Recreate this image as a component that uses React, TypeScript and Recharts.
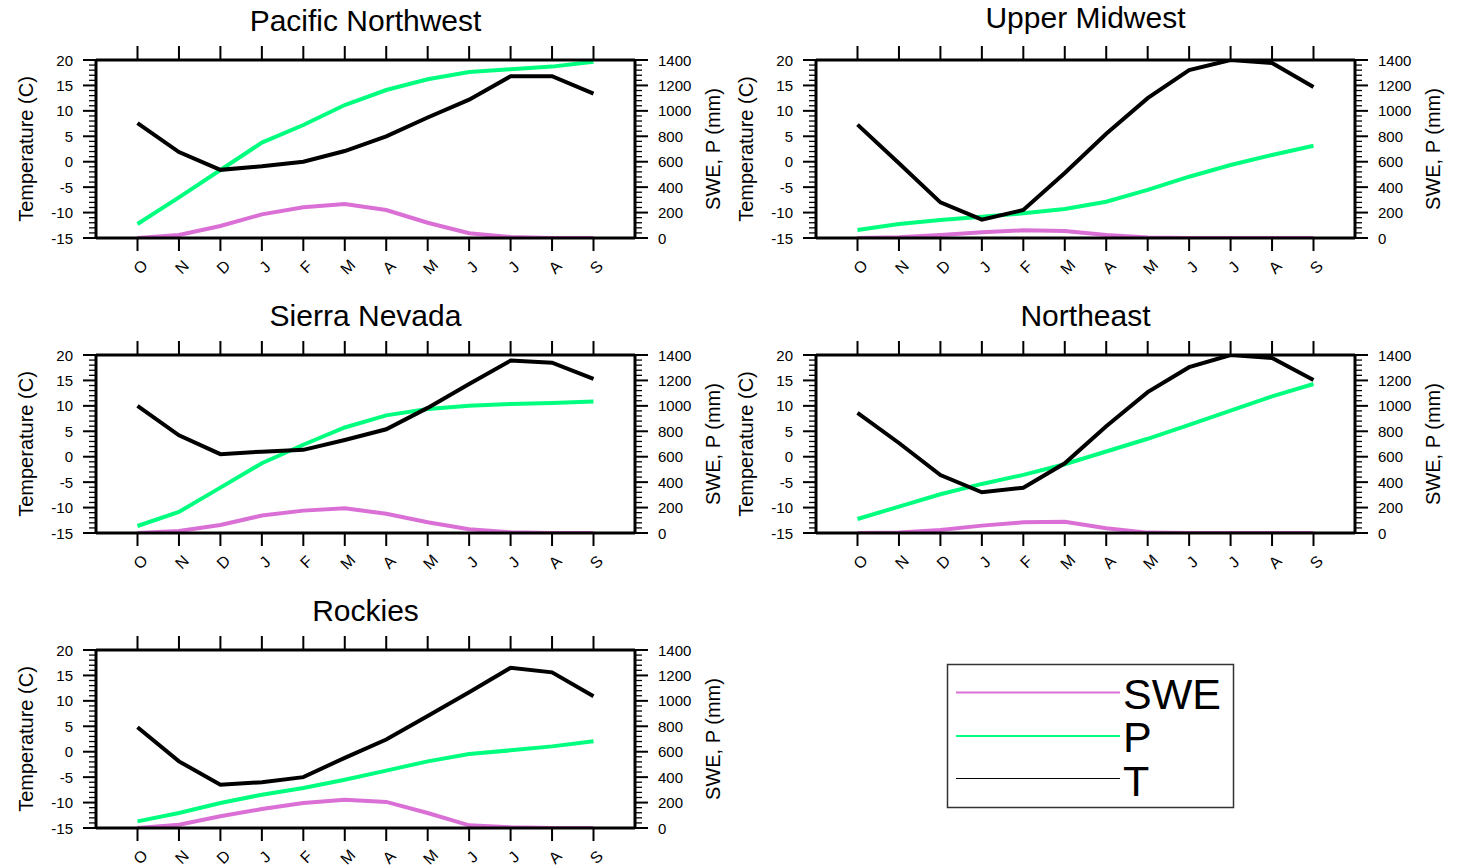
import React from "react";
import { LineChart, Line, XAxis, YAxis } from "recharts";

const months = ["Oct", "Nov", "Dec", "Jan", "Feb", "Mar", "Apr", "May", "Jun", "Jul", "Aug", "Sep"];

const pnwT = [7.6, 1.9, -1.6, -0.9, 0.0, 2.1, 5.0, 8.7, 12.2, 16.8, 16.8, 13.4];
const pnwP = [110, 320, 535, 750, 889, 1046, 1164, 1248, 1306, 1327, 1348, 1387];
const pnwSWE = [0, 24, 94, 186, 241, 267, 220, 120, 37, 8, 0, 0];

const umT = [7.3, -0.3, -8.0, -11.4, -9.5, -2.2, 5.5, 12.5, 18.0, 20.0, 19.4, 14.7];
const umP = [63, 110, 142, 168, 194, 228, 285, 378, 482, 574, 653, 726];
const umSWE = [0, 5, 24, 45, 60, 55, 24, 4, 0, 0, 0, 0];

const snT = [10.0, 4.2, 0.5, 1.0, 1.35, 3.3, 5.4, 9.6, 14.3, 18.9, 18.5, 15.3];
const snP = [55, 166, 357, 549, 694, 830, 925, 975, 1001, 1014, 1022, 1035];
const snSWE = [0, 16, 63, 137, 176, 194, 152, 84, 29, 5, 0, 0];

const neT = [8.6, 2.7, -3.6, -7.0, -6.1, -1.3, 6.0, 12.7, 17.6, 20.0, 19.4, 15.1];
const neP = [110, 208, 305, 386, 457, 541, 641, 741, 851, 962, 1074, 1172];
const neSWE = [0, 3, 24, 58, 84, 89, 37, 3, 0, 0, 0, 0];

const rkT = [4.8, -1.9, -6.5, -6.0, -5.0, -1.2, 2.4, 7.0, 11.7, 16.5, 15.6, 10.9];
const rkP = [52, 118, 197, 262, 315, 380, 451, 524, 582, 611, 642, 682];
const rkSWE = [0, 26, 92, 149, 197, 223, 205, 118, 21, 5, 0, 0];

const tempMajorTicks = [-15, -10, -5, 0, 5, 10, 15, 20];
const mmMajorTicks = [0, 200, 400, 600, 800, 1000, 1200, 1400];
const tempTicks: number[] = [];
for (let v = -15; v <= 20; v += 1) tempTicks.push(v);
const mmTicks: number[] = [];
for (let v = 0; v <= 1400; v += 40) mmTicks.push(v);

const FONT = "'Liberation Sans', Arial, Helvetica, sans-serif";
const C_SWE = "#DA70D6";
const C_P = "#00FF7F";
const C_T = "#000000";

const build = (t: number[], p: number[], s: number[]) =>
  months.map((m, i) => ({ month: m, t: t[i], p: p[i], swe: s[i] }));

const panels = [
  { title: "Pacific Northwest", left: 0, top: 0, titleDy: 29, data: build(pnwT, pnwP, pnwSWE) },
  { title: "Upper Midwest", left: 720, top: 0, titleDy: 32, data: build(umT, umP, umSWE) },
  { title: "Sierra Nevada", left: 0, top: 295, titleDy: 29, data: build(snT, snP, snSWE) },
  { title: "Northeast", left: 720, top: 295, titleDy: 29, data: build(neT, neP, neSWE) },
  { title: "Rockies", left: 0, top: 590, titleDy: 29, data: build(rkT, rkP, rkSWE) },
];

const TMAJ = 13;
const TMIN = 7;
const TMARGIN = 10;

const TempTick = (props: any) => {
  const { x, y, payload } = props;
  const v = payload.value;
  const major = tempMajorTicks.includes(v);
  const axisX = x + TMAJ + TMARGIN;
  return (
    <g>
      <line x1={axisX - (major ? TMAJ : TMIN)} x2={axisX} y1={y} y2={y} stroke="#000" strokeWidth={major ? 2 : 1.3} />
      {major && (
        <text x={x} y={y} textAnchor="end" dominantBaseline="central" fontSize={15} fontFamily={FONT} fill="#000">
          {v}
        </text>
      )}
    </g>
  );
};

const MmTick = (props: any) => {
  const { x, y, payload } = props;
  const v = payload.value;
  const major = mmMajorTicks.includes(v);
  const axisX = x - TMAJ - TMARGIN;
  return (
    <g>
      <line x1={axisX} x2={axisX + (major ? TMAJ : TMIN)} y1={y} y2={y} stroke="#000" strokeWidth={major ? 2 : 1.3} />
      {major && (
        <text x={x} y={y} textAnchor="start" dominantBaseline="central" fontSize={15} fontFamily={FONT} fill="#000">
          {v}
        </text>
      )}
    </g>
  );
};

const MonthTick = (props: any) => {
  const { x, y, payload } = props;
  const cx = x + 3;
  const cy = y;
  return (
    <text
      x={cx}
      y={cy}
      textAnchor="middle"
      dominantBaseline="central"
      fontSize={16}
      fontFamily={FONT}
      fill="#000"
      transform={`rotate(-45 ${cx} ${cy})`}
    >
      {String(payload.value).charAt(0)}
    </text>
  );
};

const EmptyTick = () => <g />;

const axisLineStyle = { stroke: "#000", strokeWidth: 3 };
const tickLineStyle = { stroke: "#000", strokeWidth: 2 };

function Panel({ data }: { data: any[] }) {
  return (
    <LineChart width={720} height={290} data={data} margin={{ top: 30, right: 0, bottom: 0, left: 0 }}>
      <XAxis
        xAxisId="b"
        dataKey="month"
        type="category"
        orientation="bottom"
        height={52}
        padding={{ left: 41.5, right: 41.5 }}
        tickSize={13}
        tickMargin={16}
        tickLine={tickLineStyle}
        axisLine={axisLineStyle}
        tick={<MonthTick />}
        interval={0}
      />
      <XAxis
        xAxisId="t"
        dataKey="month"
        type="category"
        orientation="top"
        height={30}
        padding={{ left: 41.5, right: 41.5 }}
        tickSize={14}
        tickLine={tickLineStyle}
        axisLine={axisLineStyle}
        tick={<EmptyTick />}
        interval={0}
      />
      <YAxis
        yAxisId="T"
        orientation="left"
        type="number"
        width={96}
        domain={[-15, 20]}
        ticks={tempTicks}
        interval={0}
        tickSize={TMAJ}
        tickMargin={TMARGIN}
        tickLine={false}
        axisLine={axisLineStyle}
        tick={<TempTick />}
        allowDataOverflow
      />
      <YAxis
        yAxisId="mm"
        orientation="right"
        type="number"
        width={85}
        domain={[0, 1400]}
        ticks={mmTicks}
        interval={0}
        tickSize={TMAJ}
        tickMargin={TMARGIN}
        tickLine={false}
        axisLine={axisLineStyle}
        tick={<MmTick />}
        allowDataOverflow
      />
      <Line xAxisId="b" yAxisId="mm" dataKey="swe" type="linear" stroke={C_SWE} strokeWidth={4} dot={false} activeDot={false} isAnimationActive={false} />
      <Line xAxisId="b" yAxisId="mm" dataKey="p" type="linear" stroke={C_P} strokeWidth={4} dot={false} activeDot={false} isAnimationActive={false} />
      <Line xAxisId="b" yAxisId="T" dataKey="t" type="linear" stroke={C_T} strokeWidth={4} dot={false} activeDot={false} isAnimationActive={false} />
    </LineChart>
  );
}

export default function App() {
  return (
    <div style={{ position: "absolute", left: 0, top: 0, width: 1461, height: 866, overflow: "hidden", background: "#fff" }}>
      {panels.map((p) => (
        <div key={p.title} style={{ position: "absolute", left: p.left, top: p.top }}>
          <Panel data={p.data} />
        </div>
      ))}
      <svg width={1461} height={866} style={{ position: "absolute", left: 0, top: 0, pointerEvents: "none" }}>
        {panels.map((p) => {
          const boxTop = p.top + 60;
          const midY = boxTop + 89;
          const lx = p.left + 26;
          const rx = p.left + 713;
          return (
            <g key={p.title}>
              <text x={p.left + 365.5} y={boxTop - p.titleDy} textAnchor="middle" fontSize={30} fontFamily={FONT} fill="#000">
                {p.title}
              </text>
              <text
                x={lx}
                y={midY}
                textAnchor="middle"
                dominantBaseline="central"
                fontSize={20}
                fontFamily={FONT}
                fill="#000"
                transform={`rotate(-90 ${lx} ${midY})`}
              >
                Temperature (C)
              </text>
              <text
                x={rx}
                y={midY}
                textAnchor="middle"
                dominantBaseline="central"
                fontSize={20}
                fontFamily={FONT}
                fill="#000"
                transform={`rotate(-90 ${rx} ${midY})`}
              >
                SWE, P (mm)
              </text>
            </g>
          );
        })}
        <g>
          <rect x={947.5} y={664.5} width={286} height={143} fill="#fff" stroke="#333" strokeWidth={1.5} />
          <line x1={956} x2={1120} y1={692.5} y2={692.5} stroke={C_SWE} strokeWidth={2} />
          <line x1={956} x2={1120} y1={736} y2={736} stroke={C_P} strokeWidth={2} />
          <line x1={956} x2={1120} y1={778.5} y2={778.5} stroke={C_T} strokeWidth={1.2} />
          <text x={1123} y={709} fontSize={43} fontFamily={FONT} fill="#000">SWE</text>
          <text x={1123} y={752} fontSize={43} fontFamily={FONT} fill="#000">P</text>
          <text x={1123} y={796} fontSize={43} fontFamily={FONT} fill="#000">T</text>
        </g>
      </svg>
    </div>
  );
}
